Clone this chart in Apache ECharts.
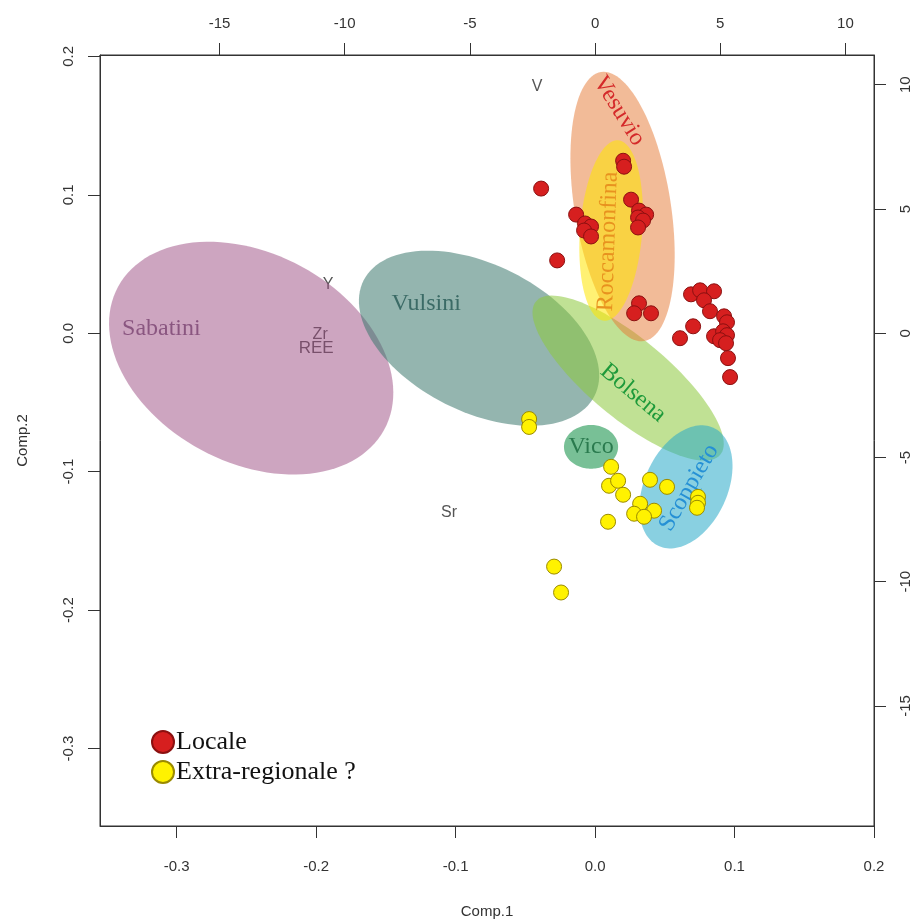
<!DOCTYPE html>
<html><head><meta charset="utf-8">
<script src="https://cdn.jsdelivr.net/npm/echarts@6/dist/echarts.min.js"></script>
<style>html,body{margin:0;padding:0;background:#fff}#c{width:924px;height:924px}</style>
</head><body><div id="c"></div>
<script>
// ---- axes ----
const xTicks = [-0.3, -0.2, -0.1, 0.0, 0.1, 0.2];
const yTicks = [-0.3, -0.2, -0.1, 0.0, 0.1, 0.2];
const topTicks = [-15, -10, -5, 0, 5, 10];
const rightTicks = [-15, -10, -5, 0, 5, 10];
const xRange = [-0.355, 0.2];
const yRange = [-0.356, 0.201];
const loadingScale = 55.7; // ratio of top/right (loading) scale to bottom/left (score) scale

// ---- scores ----
const localeX = [-0.0387, -0.0272, 0.0201, 0.0208, -0.0136, -0.0072, -0.0029, -0.0079, -0.0029,
  0.0258, 0.0315, 0.0366, 0.0308, 0.0344, 0.0308, 0.0315, 0.0280, 0.0401,
  0.0688, 0.0753, 0.0853, 0.0781, 0.0824, 0.0925, 0.0946, 0.0703, 0.0609,
  0.0853, 0.0918, 0.0946, 0.0896, 0.0939, 0.0953, 0.0968];
const localeY = [0.1045, 0.0526, 0.1246, 0.1203, 0.0857, 0.0793, 0.0771, 0.0742, 0.0699,
  0.0965, 0.0886, 0.0857, 0.0836, 0.0814, 0.0764, 0.0216, 0.0144, 0.0144,
  0.0281, 0.0310, 0.0303, 0.0238, 0.0159, 0.0122, 0.0079, 0.0050, -0.0036,
  -0.0022, 0.0014, -0.0014, -0.0050, -0.0072, -0.0180, -0.0317];
const extraX = [-0.0473, -0.0473, 0.0115, 0.0100, 0.0165, 0.0201, 0.0394, 0.0516, 0.0323,
  0.0423, 0.0280, 0.0351, 0.0738, 0.0738, 0.0731, 0.0093, -0.0294, -0.0244];
const extraY = [-0.0620, -0.0677, -0.0965, -0.1102, -0.1066, -0.1167, -0.1059, -0.1110, -0.1232,
  -0.1282, -0.1304, -0.1326, -0.1182, -0.1225, -0.1261, -0.1362, -0.1686, -0.1873];

// ---- loadings (top/right scale) ----
const varNames = ['V', 'Y', 'Zr', 'REE', 'Sr'];
const varX = [-2.32, -10.66, -10.98, -11.14, -5.83];
const varY = [9.91, 1.97, -0.04, -0.60, -7.22];

// ---- group ellipses (score scale) ----
const groupNames = ['Sabatini', 'Vulsini', 'Bolsena', 'Vico', 'Scoppieto', 'Vesuvio', 'Roccamonfina'];
const groupCX = [-0.2466, -0.0832, 0.0237, -0.0029, 0.0652, 0.0197, 0.0115];
const groupCY = [-0.0180, -0.0036, -0.0324, -0.0821, -0.1110, 0.0915, 0.0742];
const groupA = [0.1085, 0.0927, 0.0862, 0.0194, 0.0470, 0.0984, 0.0654];
const groupB = [0.0754, 0.0532, 0.0287, 0.0158, 0.0297, 0.0345, 0.0223];
const groupAngle = [-28.5, -26.8, -40, 0, 65.4, 99, 85.6];

// ---- annotation layout for group names ----
const groupLabelX = [-0.311, -0.1211, 0.0272, -0.0029, 0.0674, 0.0172, 0.0093];
const groupLabelY = [0.0036, 0.0216, -0.0432, -0.0821, -0.1117, 0.1607, 0.0663];
const groupLabelRot = [0, 0, -40, 0, 60, -58, 88];

const groupFill = {
  Sabatini: 'rgba(155,75,130,0.5)',
  Vulsini: 'rgba(60,120,110,0.55)',
  Bolsena: 'rgba(140,200,60,0.55)',
  Vico: 'rgba(30,150,80,0.6)',
  Scoppieto: 'rgba(40,170,200,0.55)',
  Vesuvio: 'rgba(230,120,50,0.5)',
  Roccamonfina: 'rgba(255,230,0,0.55)'
};
const groupText = {
  Sabatini: '#8a5680', Vulsini: '#3b6b66', Bolsena: '#1e9a3a', Vico: '#2a7a4e',
  Scoppieto: '#2590d5', Vesuvio: '#d42a2a', Roccamonfina: '#e8921f'
};

const ellipseData = groupNames.map((n, i) => [groupCX[i], groupCY[i], groupA[i], groupB[i], groupAngle[i]]);
const groupLabelData = groupNames.map((n, i) => [groupLabelX[i], groupLabelY[i], groupLabelRot[i]]);
const varData = varNames.map((n, i) => [varX[i], varY[i]]);

const axisFont = "'Liberation Sans Narrow','Liberation Sans',Arial,sans-serif";
const serif = "'Liberation Serif','Times New Roman',serif";

const chart = echarts.init(document.getElementById('c'), null, {renderer: 'canvas'});
const baseAxis = {
  type: 'value', splitLine: {show: false},
  axisLine: {show: true, onZero: false, lineStyle: {color: '#333', width: 1}},
  axisTick: {show: true, length: 12, lineStyle: {color: '#333'}},
  axisLabel: {color: '#333', fontSize: 15, fontFamily: axisFont},
  nameTextStyle: {color: '#333', fontSize: 15, fontFamily: axisFont}
};
chart.setOption({
  animation: false,
  backgroundColor: '#fff',
  grid: {left: 100, top: 55, right: 50, bottom: 95, show: true, borderColor: '#333', borderWidth: 1},
  legend: {
    orient: 'vertical', left: 146, top: 724, itemWidth: 22, itemHeight: 22, itemGap: 4,
    icon: 'circle', data: ['Locale', 'Extra-regionale ?'],
    textStyle: {fontFamily: serif, fontSize: 26, color: '#111', padding: [0, 0, 0, -3]}
  },
  xAxis: [
    Object.assign({}, baseAxis, {
      position: 'bottom', min: xRange[0], max: xRange[1], name: 'Comp.1', nameLocation: 'middle', nameGap: 78,
      axisTick: Object.assign({}, baseAxis.axisTick, {customValues: xTicks}),
      axisLabel: Object.assign({}, baseAxis.axisLabel, {customValues: xTicks, margin: 33, formatter: v => v.toFixed(1)})
    }),
    Object.assign({}, baseAxis, {
      position: 'top', min: xRange[0] * loadingScale, max: xRange[1] * loadingScale,
      axisTick: Object.assign({}, baseAxis.axisTick, {customValues: topTicks}),
      axisLabel: Object.assign({}, baseAxis.axisLabel, {customValues: topTicks, margin: 24, formatter: v => String(v)})
    })
  ],
  yAxis: [
    Object.assign({}, baseAxis, {
      position: 'left', min: yRange[0], max: yRange[1], name: 'Comp.2', nameLocation: 'middle', nameGap: 70,
      axisTick: Object.assign({}, baseAxis.axisTick, {customValues: yTicks}),
      axisLabel: Object.assign({}, baseAxis.axisLabel, {customValues: yTicks, margin: 24, rotate: 90, formatter: v => v.toFixed(1)})
    }),
    Object.assign({}, baseAxis, {
      position: 'right', min: yRange[0] * loadingScale, max: yRange[1] * loadingScale,
      axisTick: Object.assign({}, baseAxis.axisTick, {customValues: rightTicks}),
      axisLabel: Object.assign({}, baseAxis.axisLabel, {customValues: rightTicks, margin: 24, rotate: 90, formatter: v => String(v)})
    })
  ],
  series: [
    {
      type: 'custom', name: 'loadings', xAxisIndex: 1, yAxisIndex: 1, z: 1, silent: true,
      data: varData,
      renderItem: function (params, api) {
        const p = api.coord([api.value(0), api.value(1)]);
        const n = varNames[params.dataIndex];
        return {type: 'text', x: p[0], y: p[1], silent: true,
          style: {text: n, fill: '#555', font: (n === 'REE' ? '17px' : '16px') + " 'Liberation Sans',Arial,sans-serif",
            align: 'center', verticalAlign: 'middle'}};
      }
    },
    {
      type: 'custom', name: 'groups', z: 2, silent: true, clip: true,
      data: ellipseData,
      renderItem: function (params, api) {
        const cx = api.value(0), cy = api.value(1), a = api.value(2), b = api.value(3);
        const ang = api.value(4) * Math.PI / 180;
        const pts = [];
        for (let i = 0; i < 120; i++) {
          const t = i / 120 * 2 * Math.PI;
          const ex = a * Math.cos(t), ey = b * Math.sin(t);
          pts.push(api.coord([cx + ex * Math.cos(ang) - ey * Math.sin(ang), cy + ex * Math.sin(ang) + ey * Math.cos(ang)]));
        }
        return {type: 'polygon', shape: {points: pts}, style: {fill: groupFill[groupNames[params.dataIndex]]}};
      }
    },
    {
      type: 'custom', name: 'groupLabels', z: 3, silent: true,
      data: groupLabelData,
      renderItem: function (params, api) {
        const p = api.coord([api.value(0), api.value(1)]);
        const n = groupNames[params.dataIndex];
        return {type: 'text', x: p[0], y: p[1], rotation: api.value(2) * Math.PI / 180,
          style: {text: n, fill: groupText[n], font: "24px " + serif, align: 'center', verticalAlign: 'middle'}};
      }
    },
    {
      type: 'scatter', name: 'Locale', z: 4, symbol: 'circle', symbolSize: 15,
      itemStyle: {color: '#d61f1f', borderColor: '#8b1010', borderWidth: 1, opacity: 1},
      data: localeX.map((x, i) => [x, localeY[i]])
    },
    {
      type: 'scatter', name: 'Extra-regionale ?', z: 4, symbol: 'circle', symbolSize: 15,
      itemStyle: {color: '#fff200', borderColor: '#9a8a00', borderWidth: 1, opacity: 1},
      data: extraX.map((x, i) => [x, extraY[i]])
    }
  ]
});
</script>
</body></html>
